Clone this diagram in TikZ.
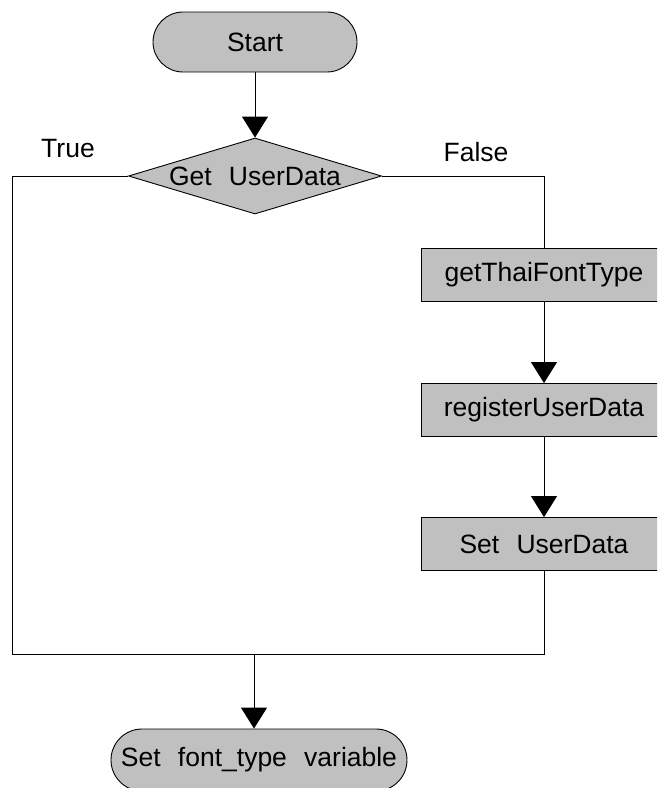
\documentclass[tikz,border=0pt]{standalone}
\usepackage{fontspec}
\setmainfont{Liberation Sans}
\usetikzlibrary{arrows.meta,shapes.geometric,calc}
\definecolor{boxgray}{RGB}{192,192,192}

\begin{document}
\begin{tikzpicture}[x=1pt,y=-1pt,
    every node/.style={font=\fontsize{26.5}{31}\selectfont},
    term/.style={draw,fill=boxgray,line width=0.9pt,minimum width=#1,minimum height=62,
      rounded corners=31},
    decision/.style={draw,fill=boxgray,line width=0.9pt,diamond,aspect=3.33,inner sep=0pt,
      minimum width=253,minimum height=76},
    proc/.style={draw,fill=boxgray,line width=0.9pt,minimum width=246,minimum height=53,
      inner sep=0pt},
    link/.style={line width=1pt},
    flow/.style={link,-{Triangle[width=26pt,length=21pt]}}]
      \def\wsp{\hspace{0.65em}}
      \def\colx{544}
      \path[use as bounding box,clip] (0,0) rectangle (657,788);
      \def\flowNodes{
        \node [term=204,minimum height=60,rounded corners=30] (start) at (255,42) {Start};
        \node [decision] (getud) at (255,176) {Get\wsp UserData};
        \node [proc] (thai) at (\colx,275) {getThaiFontType};
        \node [proc] (reg) at (\colx,410) {registerUserData};
        \node [proc] (setud) at (\colx,544) {Set\wsp UserData};
        \node [term=296] (fonttype) at (259,760) {Set\wsp font\_type\wsp variable};
      }
      \def\bendPoints{
        \coordinate (tl) at (12,176);
        \coordinate (bl) at (12,654);
        \coordinate (br) at (\colx,654);
        \coordinate (tr) at (\colx,176);
        \coordinate (join) at (254,654);
      }
      \def\showLinks{
        % True branch goes round the left side
        \draw [link] (getud.west) -- (tl) -- (bl) -- (br) -- (setud.south);
        % False branch
        \draw [link] (getud.east) -- (tr) -- (thai.north);
        \draw [flow] (start) -- (getud);
        \draw [flow] (thai) -- (reg);
        \draw [flow] (reg) -- (setud);
        \draw [flow] (join) -- (join |- fonttype.north);
      }
      \def\showLabels{
        \node (truelbl) at (68,149) {True};
        \node (falselbl) at (476,152) {False};
      }
      \flowNodes
      \bendPoints
      \showLinks
      \showLabels
\end{tikzpicture}
\end{document}
